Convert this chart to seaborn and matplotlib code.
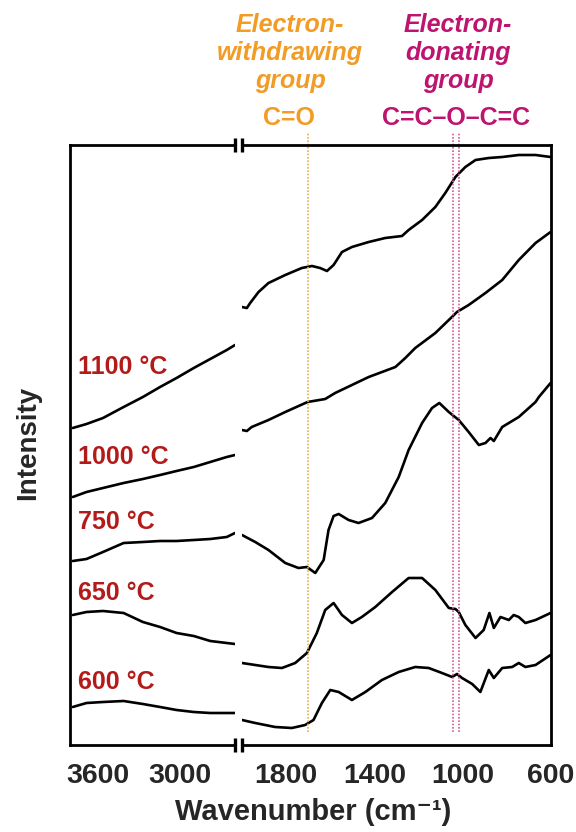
import pandas as pd
import matplotlib
matplotlib.use('Agg')
import matplotlib.pyplot as plt
import seaborn as sns

# spectra (intensity in arbitrary units, stacked offsets included)
samples = ['600 °C', '650 °C', '750 °C', '1000 °C', '1100 °C']

# 3800-2600 cm-1 segment
wn_left = [3780, 3680, 3560, 3410, 3270, 3145, 3025, 2900, 2780, 2660, 2600]
left_600 = [38, 42, 43, 44, 41, 38, 35, 33, 32, 32, 32]
left_650 = [130, 133, 134, 132, 123, 118, 112, 109, 104, 102, 101]
left_750 = [184, 186, 193, 202, 203, 204, 204, 205, 206, 208, 212]
left_1000 = [248, 253, 257, 262, 266, 270, 274, 278, 283, 288, 290]
left_1100 = [317, 321, 327, 338, 348, 358, 367, 377, 386, 395, 400]

# 2000-600 cm-1 segment
wn_600 = [2000, 1940, 1850, 1774, 1714, 1676, 1638, 1600, 1562, 1502, 1441, 1366, 1290,
          1215, 1154, 1094, 1048, 1026, 1003, 957, 920, 882, 859, 821, 776, 746, 716, 670, 602]
int_600 = [25, 22, 18, 17, 20, 25, 42, 55, 53, 45, 53, 65, 73,
           78, 77, 72, 68, 71, 67, 61, 53, 75, 67, 77, 78, 82, 78, 80, 90]

wn_650 = [2000, 1940, 1880, 1819, 1759, 1706, 1661, 1623, 1585, 1547, 1502, 1457, 1396, 1320,
          1245, 1184, 1124, 1063, 1033, 1018, 988, 942, 905, 879, 859, 829, 791, 769, 746, 716, 670, 602]
int_650 = [82, 80, 78, 77, 82, 92, 112, 135, 142, 130, 122, 128, 138, 153,
           167, 167, 155, 137, 136, 133, 120, 107, 115, 132, 117, 128, 125, 130, 128, 122, 125, 132]

wn_750 = [2000, 1940, 1880, 1804, 1744, 1706, 1668, 1630, 1608, 1585, 1562, 1517, 1472, 1411,
          1351, 1290, 1245, 1184, 1139, 1106, 1063, 1018, 973, 927, 897, 874, 859, 821, 746, 670, 655, 602]
int_750 = [210, 203, 195, 182, 177, 178, 172, 185, 215, 229, 231, 225, 222, 227,
           242, 268, 295, 322, 337, 342, 333, 325, 313, 300, 302, 307, 304, 318, 328, 343, 348, 362]

wn_1000 = [2000, 1978, 1956, 1880, 1804, 1703, 1623, 1578, 1502, 1426, 1305, 1260, 1215,
           1124, 1063, 1026, 973, 897, 821, 746, 670, 602]
int_1000 = [315, 314, 318, 325, 333, 343, 346, 352, 360, 368, 378, 387, 397,
            412, 425, 433, 440, 452, 465, 485, 502, 513]

wn_1100 = [2000, 1978, 1963, 1925, 1880, 1804, 1729, 1683, 1646, 1615, 1585, 1547, 1502, 1426,
           1351, 1275, 1245, 1184, 1124, 1079, 1033, 988, 942, 882, 821, 746, 670, 602]
int_1100 = [438, 437, 442, 453, 462, 470, 477, 479, 477, 474, 480, 493, 498, 503,
            507, 509, 515, 525, 538, 552, 568, 578, 585, 587, 588, 590, 590, 588]

# marker bands
co_band = 1700
coc_bands = [1042, 1018]

left_df = pd.concat([
    pd.DataFrame({'wn': wn_left, 'intensity': v, 'sample': s})
    for s, v in zip(samples, [left_600, left_650, left_750, left_1000, left_1100])
])
right_df = pd.concat([
    pd.DataFrame({'wn': w, 'intensity': v, 'sample': s})
    for s, w, v in zip(samples,
                       [wn_600, wn_650, wn_750, wn_1000, wn_1100],
                       [int_600, int_650, int_750, int_1000, int_1100])
])

sns.set_style('white')
plt.rcParams['font.family'] = ['Liberation Sans', 'DejaVu Sans']
plt.rcParams['font.weight'] = 'bold'

fig = plt.figure(figsize=(5.76, 8.32), dpi=100)
ax_l = fig.add_axes([70 / 576, 87 / 832, 165 / 576, 600 / 832])
ax_r = fig.add_axes([242 / 576, 87 / 832, 309 / 576, 600 / 832])

for ax, df in [(ax_l, left_df), (ax_r, right_df)]:
    sns.lineplot(data=df, x='wn', y='intensity', units='sample', estimator=None,
                 color='black', linewidth=1.9, ax=ax, legend=False)
    ax.set_ylim(0, 600)
    ax.set_xlabel('')
    ax.set_ylabel('')
    ax.set_yticks([])
    ax.tick_params(axis='x', direction='in', length=5, width=1.5, pad=13,
                   labelsize=20.5, top=False)
    for sp in ax.spines.values():
        sp.set_linewidth(2)
        sp.set_color('black')

ax_l.set_xlim(3800, 2600)
ax_l.set_xticks([3600, 3000])
ax_l.spines['right'].set_visible(False)
ax_r.set_xlim(2000, 600)
ax_r.set_xticks([1800, 1400, 1000, 600])
ax_r.spines['left'].set_visible(False)
for ax in (ax_l, ax_r):
    for lab in ax.get_xticklabels():
        lab.set_fontweight('bold')

# break marks
d = 0.011
kw = dict(color='black', linewidth=2.4, clip_on=False, solid_capstyle='butt')
ax_l.plot([1, 1], [1 - d, 1 + d], transform=ax_l.transAxes, **kw)
ax_l.plot([1, 1], [-d, d], transform=ax_l.transAxes, **kw)
ax_r.plot([0, 0], [1 - d, 1 + d], transform=ax_r.transAxes, **kw)
ax_r.plot([0, 0], [-d, d], transform=ax_r.transAxes, **kw)

# dotted band markers
ax_r.plot([co_band, co_band], [13, 612], color='#E8AE4A', linestyle=(0, (1, 1)),
          linewidth=1.2, clip_on=False)
for b in coc_bands:
    ax_r.plot([b, b], [13, 612], color='#D45A9C', linestyle=(0, (1, 1)),
              linewidth=1.2, clip_on=False)

# temperature labels
label_y = [63, 152, 223, 288, 378]
for s, y in zip(samples, label_y):
    ax_l.text(3745, y, s, color='#B31B1B', fontsize=18, fontweight='bold',
              ha='left', va='center')

orange = '#F29B25'
pink = '#BE1470'
fig.text(290 / 576, 1 - 53 / 832, 'Electron-\nwithdrawing\ngroup', color=orange,
         fontsize=18, fontweight='bold', fontstyle='italic', ha='center', va='center',
         linespacing=1.22)
fig.text(458 / 576, 1 - 53 / 832, 'Electron-\ndonating\ngroup', color=pink,
         fontsize=18, fontweight='bold', fontstyle='italic', ha='center', va='center',
         linespacing=1.22)
fig.text(289 / 576, 1 - 118 / 832, 'C=O', color=orange, fontsize=18,
         fontweight='bold', ha='center', va='center')
fig.text(456 / 576, 1 - 118 / 832, 'C=C–O–C=C', color=pink, fontsize=18,
         fontweight='bold', ha='center', va='center')

fig.text(313 / 576, 1 - 820 / 832, 'Wavenumber (cm⁻¹)', fontsize=21,
         fontweight='bold', ha='center', va='baseline')
fig.text(28 / 576, 1 - 443 / 832, 'Intensity', fontsize=20, fontweight='bold',
         rotation=90, ha='center', va='center')

fig.savefig('out.png', dpi=100)
